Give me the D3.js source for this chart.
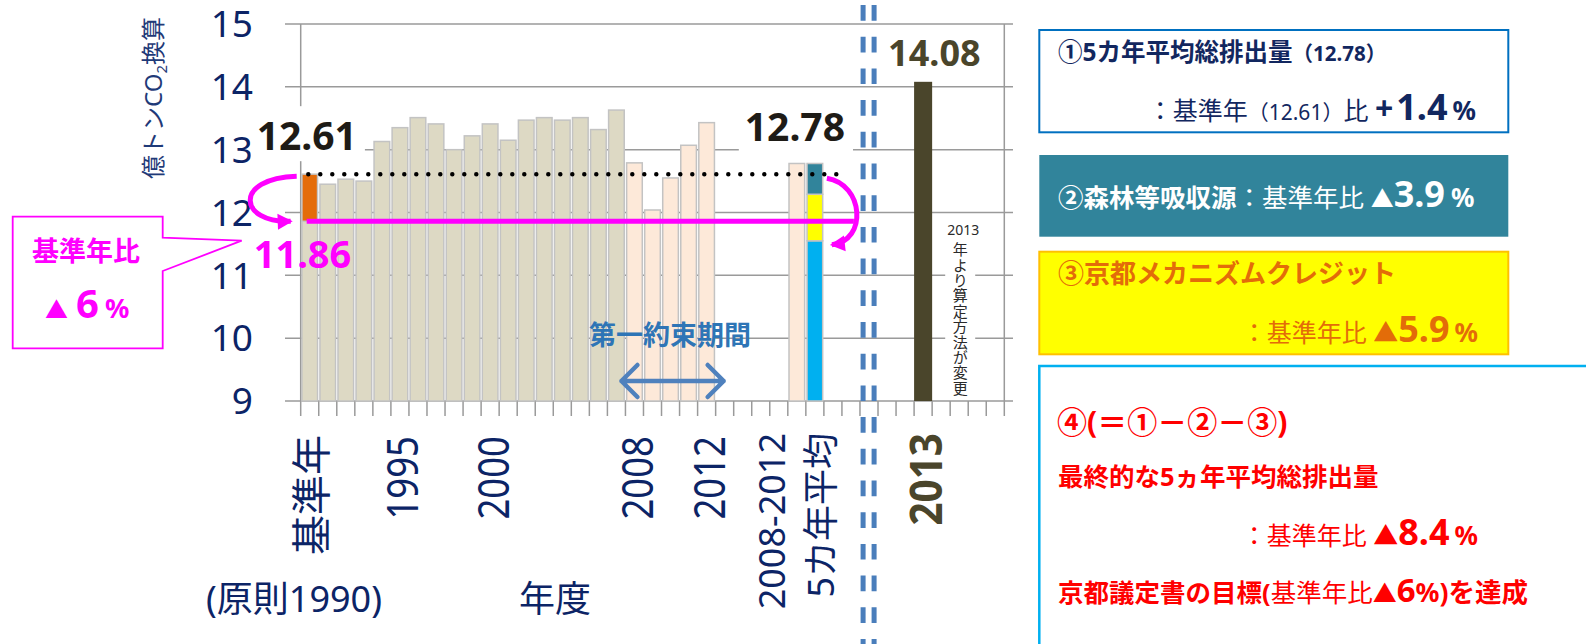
<!DOCTYPE html>
<html lang="ja">
<head>
<meta charset="utf-8">
<script src="https://cdn.jsdelivr.net/npm/d3@7"></script>
<style>
html,body{margin:0;padding:0;background:#fff;}
svg{display:block;font-family:'Noto Sans','Noto Sans CJK JP',sans-serif;}
</style>
</head>
<body>
<svg id="chart" width="1586" height="644"></svg>
<script>
// 温室効果ガス排出量（億トンCO2換算）
const yearLabels = ["基準年","1991","1992","1993","1994","1995","1996","1997","1998","1999","2000",
  "2001","2002","2003","2004","2005","2006","2007","2008","2009","2010","2011","2012"];
const annualValues = [12.61,12.45,12.53,12.50,13.13,13.35,13.51,13.41,13.00,13.22,13.41,
  13.15,13.47,13.51,13.47,13.51,13.32,13.63,12.79,12.04,12.55,13.07,13.43];
const periodYears = ["2008","2009","2010","2011","2012"];
const baseYearValue = 12.61;
const targetValue = 11.86;       // 基準年比 ▲6%
const periodAverage = 12.78;     // 2008-2012 5カ年平均
const forestSink = 0.49;         // 森林等吸収源 ▲3.9%
const kyotoCredit = 0.74;        // 京都メカニズムクレジット ▲5.9%
const value2013 = 14.08;
const yTicks = [9,10,11,12,13,14,15];
const tickYears = ["1995","2000","2008","2012"];

// slots along the category axis (blank slots keep the spacing)
const slots = [...yearLabels, "_a","_b","_c","_d","平均","内訳","_e","_f","区切","_g","_h","2013","_i","注記","_j","_k"];

const NAVY = "#0c2466", MAGENTA = "#ff00ff";
const svg = d3.select("#chart");

const x = d3.scaleBand().domain(slots).range([300.7, 1004.3]).padding(0);
const y = d3.scaleLinear().domain([9, 15]).range([401, 24]);
const bw = x.bandwidth();
const cx = s => x(s) + bw / 2;

// ---- grid, frame, ticks
const grid = svg.append("g").attr("stroke", "#9a9a9a").attr("stroke-width", 1.5);
grid.selectAll("line.h").data(yTicks).join("line")
  .attr("x1", 285).attr("x2", 1013).attr("y1", d => y(d)).attr("y2", d => y(d));
grid.append("line").attr("x1", x.range()[0]).attr("x2", x.range()[0]).attr("y1", y(15)).attr("y2", y(9));
grid.append("line").attr("x1", x.range()[1]).attr("x2", x.range()[1]).attr("y1", y(15)).attr("y2", y(9));
const boundaries = slots.map(s => x(s)).concat([x.range()[1]]);
grid.selectAll("line.t").data(boundaries).join("line")
  .attr("x1", d => d).attr("x2", d => d).attr("y1", y(9)).attr("y2", y(9) + 15);

// y tick labels
svg.append("g").selectAll("text").data(yTicks).join("text")
  .attr("x", 253).attr("y", d => y(d) + 13.3).attr("text-anchor", "end")
  .attr("fill", NAVY).style("font-size", "37px").text(d => d);

// y axis title
svg.append("text").attr("transform", `translate(162,98) rotate(-90)`).attr("text-anchor", "middle")
  .attr("fill", "#1f3a78").style("font-size", "24px")
  .call(t => { t.append("tspan").text("億トンCO");
               t.append("tspan").text("2").style("font-size", "15px").attr("dy", 5);
               t.append("tspan").text("換算").attr("dy", -5); });

// ---- bars
const bars = svg.append("g").attr("stroke", "#c3c3c3").attr("stroke-width", 1.5);
function bar(slot, v0, v1, fill, inset = 1.2) {
  bars.append("rect").attr("x", x(slot) + inset).attr("width", bw - 2 * inset)
    .attr("y", y(v1)).attr("height", y(v0) - y(v1)).attr("fill", fill);
}
yearLabels.forEach((yr, i) => {
  if (i === 0) {
    bar(yr, 9, targetValue, "#ddd9c4");
    bar(yr, targetValue, baseYearValue, "#e46c0a");
  } else {
    bar(yr, 9, annualValues[i], periodYears.includes(yr) ? "#fde9d9" : "#ddd9c4");
  }
});
bar("平均", 9, periodAverage, "#fde9d9");
const afterCredit = periodAverage - forestSink - kyotoCredit;
bar("内訳", 9, afterCredit, "#00b0f0");
bar("内訳", afterCredit, periodAverage - forestSink, "#ffff00");
bar("内訳", periodAverage - forestSink, periodAverage, "#31849b");
svg.append("rect").attr("x", x("2013")).attr("width", bw).attr("y", y(value2013))
  .attr("height", y(9) - y(value2013)).attr("fill", "#4a452b");

// ---- value labels with white backing
function valueLabel(tx, ty, txt, color, size, backed) {
  const t = svg.append("text").attr("x", tx).attr("y", ty).attr("fill", color)
    .style("font-size", size + "px").style("font-weight", 700).text(txt);
  if (backed) {
    const b = t.node().getBBox();
    svg.insert("rect", () => t.node()).attr("x", b.x - 6).attr("y", b.y - 2)
      .attr("width", b.width + 14).attr("height", b.height + 2).attr("fill", "#fff");
  }
  return t;
}
valueLabel(x("基準年") - 44, y(baseYearValue) - 24, baseYearValue.toFixed(2), "#1e1b16", 39, true);
valueLabel(x("平均") - 43, y(periodAverage) - 22, periodAverage.toFixed(2), "#1e1b16", 39, true);
valueLabel(x("2013") - 26, y(value2013) - 16, value2013.toFixed(2), "#4a452b", 36, false);

// note about the 2013 method change (vertical writing)
const nx = cx("注記");
svg.append("rect").attr("x", nx - 14).attr("y", 218).attr("width", 30).attr("height", 181).attr("fill", "#fff");
svg.append("text").attr("x", nx + 4).attr("y", 235).attr("text-anchor", "middle")
  .attr("fill", "#2a2a2a").style("font-size", "14px").text("2013");
svg.append("text").attr("x", nx + 0.5).attr("y", 242)
  .style("writing-mode", "vertical-rl").style("text-orientation", "upright")
  .style("letter-spacing", "0.4px")
  .attr("fill", "#2a2a2a").style("font-size", "15px").text("年より算定方法が変更");

// ---- x labels (rotated)
function rotLabel(px, py, txt, size, opts = {}) {
  svg.append("text")
    .attr("transform", `translate(${px},${py}) rotate(-90) scale(${opts.sx || 1},1)`)
    .attr("text-anchor", "end").attr("fill", opts.color || NAVY)
    .style("font-size", size + "px").style("font-weight", opts.bold ? 700 : 400).text(txt);
}
rotLabel(cx("基準年") + 16.5, 435, "基準年", 40);
tickYears.forEach(t => rotLabel(cx(t) + 18.5, 436, t, 44, { sx: 0.83 }));
rotLabel(cx("平均") - 11.5, 433, "2008-2012", 36);
rotLabel(cx("平均") + 37.5, 433, "5カ年平均", 36);
rotLabel(cx("2013") + 18.8, 433, "2013", 44, { bold: true, sx: 0.92, color: "#4a452b" });

svg.append("text").attr("x", 206).attr("y", 612).attr("fill", NAVY).style("font-size", "36px").text("(原則1990)");
svg.append("text").attr("x", 519).attr("y", 612).attr("fill", NAVY).style("font-size", "36px").text("年度");

// ---- 第一約束期間
svg.append("text").attr("x", 589).attr("y", 345).attr("fill", "#2e75b6")
  .style("font-size", "27px").style("font-weight", 700).text("第一約束期間");
const ax0 = x("2008") - 4, ax1 = x("2012") + bw + 8, ay = 381;
svg.append("path")
  .attr("d", `M${ax0 + 16},${ay - 16} L${ax0},${ay} L${ax0 + 16},${ay + 16} M${ax0},${ay} L${ax1},${ay} M${ax1 - 16},${ay - 16} L${ax1},${ay} L${ax1 - 16},${ay + 16}`)
  .attr("fill", "none").attr("stroke", "#4f81bd").attr("stroke-width", 4.5)
  .attr("stroke-linecap", "round").attr("stroke-linejoin", "round");

// ---- base-year dotted reference line
svg.append("line").attr("x1", x("基準年") + 7.6).attr("x2", x("内訳") + bw + 17)
  .attr("y1", y(baseYearValue)).attr("y2", y(baseYearValue))
  .attr("stroke", "#000").attr("stroke-width", 4.5).attr("stroke-linecap", "round")
  .attr("stroke-dasharray", "0 12");

// ---- ▲6% target line and arrows
const defs = svg.append("defs");
defs.append("marker").attr("id", "head").attr("markerUnits", "userSpaceOnUse")
  .attr("viewBox", "-16 -10 20 20").attr("markerWidth", 20).attr("markerHeight", 20)
  .attr("refX", 0).attr("refY", 0).attr("orient", "auto")
  .append("path").attr("d", "M2,0 L-13,-8 L-13,8 Z").attr("fill", MAGENTA);

const yT = y(targetValue), yB = y(baseYearValue);
svg.append("line").attr("x1", x("基準年") + 6).attr("x2", x("内訳") + bw + 30)
  .attr("y1", yT).attr("y2", yT).attr("stroke", MAGENTA).attr("stroke-width", 5);
const lx = x("基準年");
svg.append("path").attr("d", `M${lx - 4},${yB + 2} C${lx - 68},${yB + 4} ${lx - 62},${yT + 2} ${lx - 10},${yT}`)
  .attr("fill", "none").attr("stroke", MAGENTA).attr("stroke-width", 5).attr("marker-end", "url(#head)");
const rx = x("内訳") + bw;
const yA = y(afterCredit);
svg.append("path").attr("d", `M${rx + 3},${yB + 4} C${rx + 40},${yB + 10} ${rx + 44},${yA} ${rx + 8},${yA + 4}`)
  .attr("fill", "none").attr("stroke", MAGENTA).attr("stroke-width", 5).attr("marker-end", "url(#head)");

valueLabel(x("基準年") - 47, yT + 46.5, targetValue.toFixed(2), MAGENTA, 38, false);

// callout: 基準年比 ▲6%
svg.append("path").attr("d", "M12.7,216.7 H162.7 V237.7 L241.7,240.7 L162.7,271 V348.3 H12.7 Z")
  .attr("fill", "#fff").attr("stroke", MAGENTA).attr("stroke-width", 1.8);
svg.append("text").attr("x", 86).attr("y", 261).attr("text-anchor", "middle").attr("fill", MAGENTA)
  .style("font-size", "27px").style("font-weight", 700).text("基準年比");
svg.append("text").attr("x", 45).attr("y", 318).attr("fill", MAGENTA).style("font-weight", 700)
  .call(t => {
    t.append("tspan").text("▲").style("font-size", "23px");
    t.append("tspan").text("6").style("font-size", "40px").attr("dx", 8);
    t.append("tspan").text("%").style("font-size", "27px").attr("dx", 6);
  });

// ---- period divider (double dashed line)
[865, 876].forEach(dx => {
  svg.append("line").attr("x1", dx).attr("x2", dx).attr("y1", 0).attr("y2", 644)
    .attr("stroke", "#4a7ebb").attr("stroke-width", 5)
    .attr("stroke-dasharray", "15.7 16").attr("stroke-dashoffset", 26.7)
    .attr("transform", `translate(${cx("区切") - 870.9},0)`);
});

// ---- summary panel
function rich(px, py, anchor, color, parts) {
  const t = svg.append("text").attr("x", px).attr("y", py).attr("text-anchor", anchor).attr("fill", color);
  parts.forEach(p => {
    const s = t.append("tspan").text(p.t).style("font-size", p.s + "px").style("font-weight", p.b ? 700 : 400);
    if (p.dx) s.attr("dx", p.dx);
  });
  return t;
}
svg.append("rect").attr("x", 1039.3).attr("y", 30).attr("width", 469).attr("height", 102.3)
  .attr("fill", "#fff").attr("stroke", "#0070c0").attr("stroke-width", 2);
svg.append("rect").attr("x", 1039.3).attr("y", 155).attr("width", 469).attr("height", 81.7).attr("fill", "#31849b");
svg.append("rect").attr("x", 1039.3).attr("y", 251.7).attr("width", 469).attr("height", 102.6)
  .attr("fill", "#ffff00").attr("stroke", "#ffc000").attr("stroke-width", 2);
svg.append("rect").attr("x", 1039.3).attr("y", 366).attr("width", 620).attr("height", 320)
  .attr("fill", "#fff").attr("stroke", "#00b0f0").attr("stroke-width", 2.5);

const NAVY2 = "#12275f", ORANGE = "#e36c09", RED = "#ff0000";
rich(1058, 61, "start", NAVY2, [{ t: "①5カ年平均総排出量", s: 24.5, b: 1 }, { t: "（12.78）", s: 20.5, b: 1 }]);
rich(1476, 120, "end", NAVY2, [{ t: "：基準年", s: 25 }, { t: "（12.61）", s: 21 }, { t: "比 ", s: 25 },
  { t: "+", s: 32, b: 1 }, { t: "1.4", s: 36, b: 1, dx: 3 }, { t: "%", s: 26, b: 1, dx: 5 }]);
rich(1058, 207, "start", "#fff", [{ t: "②森林等吸収源", s: 25.5, b: 1 }, { t: "：基準年比 ", s: 25.5 },
  { t: "▲", s: 23 }, { t: "3.9", s: 36, b: 1 }, { t: "%", s: 26, b: 1, dx: 6 }]);
rich(1058, 283, "start", ORANGE, [{ t: "③京都メカニズムクレジット", s: 26, b: 1 }]);
rich(1478, 342, "end", ORANGE, [{ t: "：基準年比 ", s: 25 }, { t: "▲", s: 25, b: 1 },
  { t: "5.9", s: 36, b: 1 }, { t: "%", s: 26, b: 1, dx: 5 }]);
rich(1057, 433, "start", RED, [{ t: "④(＝①－②－③)", s: 30, b: 1 }]);
rich(1058, 486, "start", RED, [{ t: "最終的な5ヵ年平均総排出量", s: 25.5, b: 1 }]);
rich(1478, 545, "end", RED, [{ t: "：基準年比 ", s: 25 }, { t: "▲", s: 25, b: 1 },
  { t: "8.4", s: 36, b: 1 }, { t: "%", s: 26, b: 1, dx: 5 }]);
rich(1058, 602, "start", RED, [{ t: "京都議定書の目標(", s: 25.5, b: 1 }, { t: "基準年比", s: 25.5 },
  { t: "▲", s: 24 }, { t: "6", s: 33, b: 1 }, { t: "%)を達成", s: 26.5, b: 1 }]);
</script>
</body>
</html>
